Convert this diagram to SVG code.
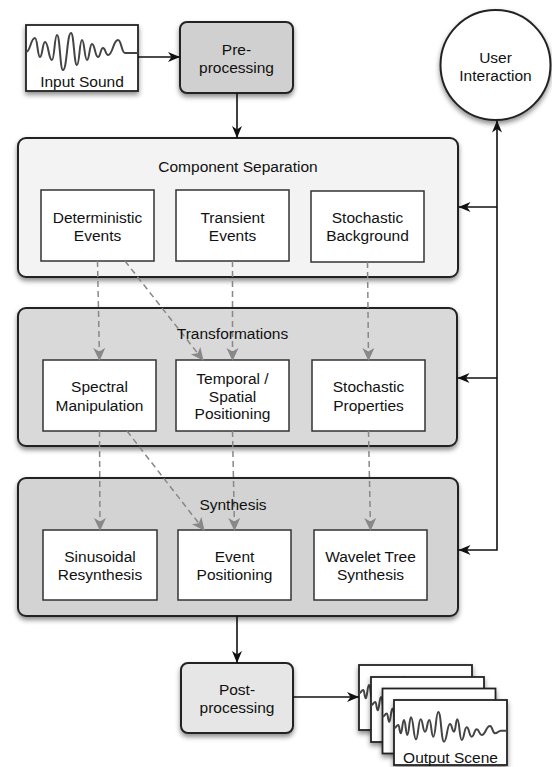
<svg xmlns="http://www.w3.org/2000/svg" width="552" height="767" viewBox="0 0 552 767">
<style>
.t{font-family:"Liberation Sans",Arial,Helvetica,sans-serif;font-size:15.5px;fill:#111;text-anchor:middle}
.panel{stroke:#222;stroke-width:2}
.box{fill:#fff;stroke:#333;stroke-width:1.5}
.wave{fill:none;stroke:#444;stroke-width:2;stroke-linejoin:round}
.arr{fill:none;stroke:#111;stroke-width:1.6}
.dash{fill:none;stroke:#888;stroke-width:1.5;stroke-dasharray:6 4}
</style>
<defs>
<filter id="sh" x="-20%" y="-20%" width="140%" height="150%">
<feDropShadow dx="0" dy="3" stdDeviation="2.5" flood-color="#000" flood-opacity="0.45"/>
</filter>
<marker id="ah" markerUnits="userSpaceOnUse" markerWidth="14" markerHeight="12" refX="12" refY="5" orient="auto">
<path d="M0,0 L12,5 L0,10 L3.5,5 z" fill="#111"/>
</marker>
<marker id="ahs" markerUnits="userSpaceOnUse" markerWidth="14" markerHeight="12" refX="12" refY="5" orient="auto-start-reverse">
<path d="M0,0 L12,5 L0,10 L3.5,5 z" fill="#111"/>
</marker>
<marker id="gh" markerUnits="userSpaceOnUse" markerWidth="14" markerHeight="14" refX="12" refY="6" orient="auto">
<path d="M0,0 L13,6 L0,12 L3.5,6 z" fill="#888"/>
</marker>
<path id="outwave" class="wave" d="M0,28.3 C2.2,28.3 2.2,25 4.3,25 C5.5,25 5.5,33.3 6.7,33.3 C8.3,33.3 8.3,20 10,20 C11.7,20 11.7,35 13.3,35 C15.2,35 15.2,17.3 17,17.3 C19.5,17.3 19.5,39.3 22,39.3 C24.3,39.3 24.3,19.3 26.7,19.3 C28.8,19.3 28.8,31.7 31,31.7 C33.2,31.7 33.2,20 35.3,20 C37.3,20 37.3,36.7 39.3,36.7 C41.8,36.7 41.8,12 44.3,12 C47.2,12 47.2,41.7 50,41.7 C53,41.7 53,24 56,24 C58,24 58,31.7 60,31.7 C61.7,31.7 61.7,19.3 63.3,19.3 C65.5,19.3 65.5,40 67.7,40 C70.2,40 70.2,27.3 72.7,27.3 C75.2,27.3 75.2,36.7 77.7,36.7 C80.2,36.7 80.2,29.3 82.7,29.3 C85.2,29.3 85.2,35 87.7,35 C91.8,35 91.8,26 96,26 C98.5,26 98.5,33.3 101,33.3 C104,33.3 104,30.7 107,30.7 L113,30.7"/>
</defs>
<rect width="552" height="767" fill="#fff"/>

<g id="input-sound">
<rect x="26" y="25" width="112" height="66" fill="#fff" stroke="#222" stroke-width="1.8" filter="url(#sh)"/>
<path class="wave" d="M26,52 C30.5,52 30.5,38 35,38 C37.5,38 37.5,57 40,57 C42.5,57 42.5,42 45,42 C48.5,42 48.5,60 52,60 C54.5,60 54.5,35 57,35 C60,35 60,70 63,70 C67,70 67,33 71,33 C74,33 74,65 77,65 C79.5,65 79.5,40 82,40 C84.5,40 84.5,60 87,60 C89.5,60 89.5,44 92,44 C95,44 95,57 98,57 C100.5,57 100.5,48 103,48 C105.5,48 105.5,55 108,55 C113,55 113,40 118,40 C121.5,40 121.5,53 125,53 L138,53"/>
<text class="t" x="82" y="87">Input Sound</text>
</g>

<g id="pre-processing">
<rect x="180" y="22" width="113" height="71" rx="7" fill="#d0d0d0" stroke="#222" stroke-width="2" filter="url(#sh)"/>
<text class="t" x="236.5" y="54.5">Pre-</text>
<text class="t" x="236.5" y="72.8">processing</text>
</g>

<g id="user-interaction">
<circle cx="495.5" cy="65" r="55" fill="#fff" stroke="#222" stroke-width="2" filter="url(#sh)"/>
<text class="t" x="495.5" y="63">User</text>
<text class="t" x="495.5" y="81.3">Interaction</text>
</g>

<g id="component-separation">
<rect class="panel" x="18" y="138" width="440" height="139" rx="8" fill="#f3f3f3" filter="url(#sh)"/>
<text class="t" x="238" y="172">Component Separation</text>
</g>
<g id="deterministic-events">
<rect class="box" x="41" y="190" width="113" height="71"/>
<text class="t" x="97.5" y="223">Deterministic</text>
<text class="t" x="97.5" y="241.3">Events</text>
</g>
<g id="transient-events">
<rect class="box" x="176" y="190" width="113" height="71"/>
<text class="t" x="232.5" y="223">Transient</text>
<text class="t" x="232.5" y="241.3">Events</text>
</g>
<g id="stochastic-background">
<rect class="box" x="311" y="191" width="113" height="71"/>
<text class="t" x="367.5" y="223">Stochastic</text>
<text class="t" x="367.5" y="241.3">Background</text>
</g>

<g id="transformations">
<rect class="panel" x="18" y="308" width="439" height="138" rx="8" fill="#d9d9d9" filter="url(#sh)"/>
</g>
<g id="spectral-manipulation">
<rect class="box" x="43" y="360" width="113" height="71"/>
<text class="t" x="99.5" y="392.2">Spectral</text>
<text class="t" x="99.5" y="410.5">Manipulation</text>
</g>
<g id="temporal-spatial-positioning">
<rect class="box" x="176" y="360" width="113" height="71"/>
<text class="t" x="232.5" y="384">Temporal /</text>
<text class="t" x="232.5" y="401.5">Spatial</text>
<text class="t" x="232.5" y="419">Positioning</text>
</g>
<g id="stochastic-properties">
<rect class="box" x="312" y="360" width="113" height="71"/>
<text class="t" x="368.5" y="392.2">Stochastic</text>
<text class="t" x="368.5" y="410.5">Properties</text>
</g>

<g id="synthesis">
<rect class="panel" x="18" y="478" width="440" height="138" rx="8" fill="#d3d3d3" filter="url(#sh)"/>
</g>
<g id="sinusoidal-resynthesis">
<rect class="box" x="43" y="530" width="114" height="70"/>
<text class="t" x="100" y="562">Sinusoidal</text>
<text class="t" x="100" y="580.3">Resynthesis</text>
</g>
<g id="event-positioning">
<rect class="box" x="178" y="530" width="113" height="70"/>
<text class="t" x="234.5" y="562">Event</text>
<text class="t" x="234.5" y="580.3">Positioning</text>
</g>
<g id="wavelet-tree-synthesis">
<rect class="box" x="314" y="530" width="113" height="70"/>
<text class="t" x="370.5" y="562">Wavelet Tree</text>
<text class="t" x="370.5" y="580.3">Synthesis</text>
</g>

<g id="post-processing">
<rect x="181" y="663" width="112" height="70" rx="7" fill="#e6e6e6" stroke="#222" stroke-width="2" filter="url(#sh)"/>
<text class="t" x="237" y="694.5">Post-</text>
<text class="t" x="237" y="712.8">processing</text>
</g>

<g id="output-scene">
<g transform="translate(359,665)"><rect width="113" height="65" fill="#fff" stroke="#222" stroke-width="1.8" filter="url(#sh)"/><use href="#outwave"/></g>
<g transform="translate(371,677)"><rect width="113" height="65" fill="#fff" stroke="#222" stroke-width="1.8" filter="url(#sh)"/><use href="#outwave"/></g>
<g transform="translate(382.5,688.5)"><rect width="113" height="65" fill="#fff" stroke="#222" stroke-width="1.8" filter="url(#sh)"/><use href="#outwave"/></g>
<g transform="translate(394,700)"><rect width="113" height="65" fill="#fff" stroke="#222" stroke-width="1.8" filter="url(#sh)"/><use href="#outwave"/></g>
<text class="t" x="450.5" y="763">Output Scene</text>
</g>

<g id="connectors">
<path class="arr" d="M138,57 H180" marker-end="url(#ah)"/>
<path class="arr" d="M237,93 V138" marker-end="url(#ah)"/>
<path class="arr" d="M237,616 V663" marker-end="url(#ah)"/>
<path class="arr" d="M293,697 H359" marker-end="url(#ah)"/>
<path class="arr" d="M497,120.5 V550 H458.5" marker-start="url(#ahs)" marker-end="url(#ah)"/>
<path class="arr" d="M497,207 H458.5" marker-end="url(#ah)"/>
<path class="arr" d="M497,378 H457.5" marker-end="url(#ah)"/>
<path class="dash" d="M97.5,261 L99.5,360" marker-end="url(#gh)"/>
<path class="dash" d="M125,261 L203,360" marker-end="url(#gh)"/>
<path class="dash" d="M232.5,261 L232.5,360" marker-end="url(#gh)"/>
<path class="dash" d="M367.5,262 L368.5,360" marker-end="url(#gh)"/>
<path class="dash" d="M99.5,431 L100,530" marker-end="url(#gh)"/>
<path class="dash" d="M127,431 L204,530" marker-end="url(#gh)"/>
<path class="dash" d="M232.5,431 L234.5,530" marker-end="url(#gh)"/>
<path class="dash" d="M368.5,431 L370.5,530" marker-end="url(#gh)"/>
</g>

<g id="panel-titles">
<text class="t" x="232.5" y="338.5">Transformations</text>
<text class="t" x="233" y="509.5">Synthesis</text>
</g>
</svg>
